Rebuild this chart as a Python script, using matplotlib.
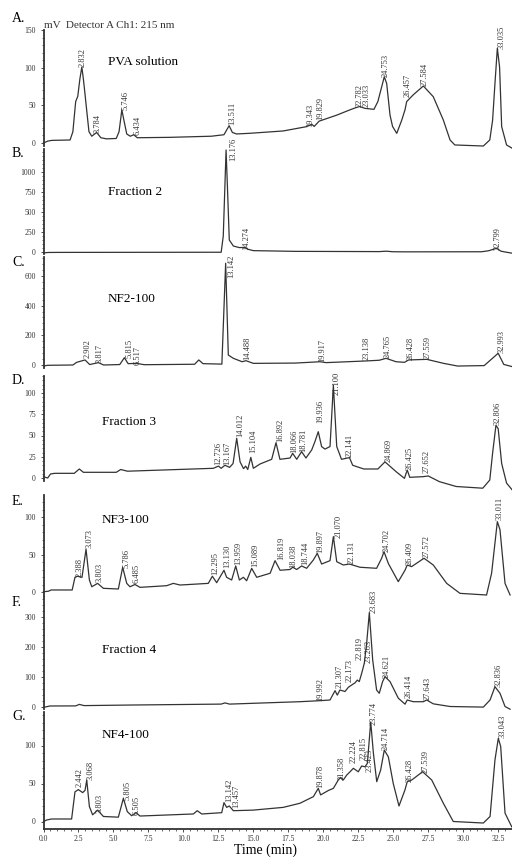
import matplotlib
matplotlib.use('Agg')
import matplotlib.pyplot as plt
from matplotlib.ticker import AutoMinorLocator, FixedLocator

plt.rcParams['font.family'] = 'serif'
plt.rcParams['font.serif'] = ['Liberation Serif', 'DejaVu Serif']

# ---- data (time in min, signal in mV) ----
# A. PVA solution
t_A = [0, 0.3, 0.6, 1.9, 2.1, 2.3, 2.45, 2.6, 2.74, 2.85, 2.95, 3.05, 3.25, 3.45, 3.8, 4.1, 4.5, 5.2, 5.4,
       5.6, 5.75, 5.95, 6.2, 6.45, 6.7, 9, 12, 12.9, 13.27, 13.5, 13.8, 14.76, 17.14, 18.8, 19.17, 19.35,
       19.7, 20.96, 21.9, 22.34, 22.6, 22.98, 23.62, 23.9, 24.36, 24.53, 24.77, 24.95, 25.25, 25.6, 25.84,
       25.96, 26.43, 27.15, 27.86, 28.58, 29.06, 29.4, 31.44, 31.9, 32.1, 32.27, 32.44, 32.6, 32.75, 33.1, 33.5]
s_A = [0, 2.5, 3.5, 4, 15, 55, 62, 85, 101, 85, 68, 50, 15, 9, 14, 7, 5.5, 6, 15,
       44, 30, 12, 9, 11, 7, 7.5, 9, 11, 23, 14, 12, 12.9, 16, 21.7, 25, 22,
       29, 37, 44, 47, 48.5, 46, 44.7, 55, 88, 79, 37, 22, 12.8, 30, 44,
       55, 64, 75.7, 61.5, 30.5, 4, -2.6, -4, 4, 30, 79, 125.8, 101, 21.7, -2.6, -7]
lab_A = ['2.832', '3.784', '5.746', '6.434', '13.511', '19.343', '19.829', '22.782', '23.033',
         '24.753', '26.457', '27.584', '33.035']
lx_A = [2.82, 3.90, 5.90, 6.75, 13.47, 19.10, 19.76, 22.62, 23.12, 24.48, 26.05, 27.27, 32.75]
ly_A = [101, 13.3, 43.8, 10.6, 23.9, 21.2, 30.5, 47.8, 47.8, 87.6, 61.1, 75.7, 124.8]

# B. Fraction 2
t_B = [0, 0.3, 1, 12.7, 12.85, 13.05, 13.15, 13.28, 13.57, 14.0, 14.4, 14.6, 15.0, 18, 24, 24.5, 25,
       26, 31.3, 31.8, 32.39, 32.7, 33.0, 33.5]
s_B = [-12, -6, -5, -3, 200, 1275, 800, 150, 75, 55, 58, 35, 17, 8, 5, 10, 3,
       2, 3, 15, 46, 10, 0, -15]
lab_B = ['13.176', '14.274', '32.799']
lx_B = [13.55, 14.52, 32.49]
ly_B = [1137, 25, 25]

# C. NF2-100
t_C = [0, 0.3, 2.1, 2.37, 2.97, 3.3, 3.92, 4.3, 5.45, 5.78, 6.05, 6.65, 7.2, 10.8, 11.1, 11.4, 12.75,
       13.02, 13.21, 13.57, 14.2, 14.47, 15.0, 18, 19.77, 20.2, 23.0, 24.0, 24.48, 25.2, 25.8, 26.1, 27.4,
       28.6, 29.6, 31.5, 32.5, 32.9, 33.5]
s_C = [-7, -2, 0, 18, 34, 3, 16, 0, 3, 49, 9, 11, 2, 5, 34, 9, 6,
       685, 67, 45, 22, 29, 11, 13, 22, 16, 27, 32, 45, 22, 18, 34, 38,
       11, -7, -4, 79, 4, -11]
lab_C = ['2.902', '3.817', '5.815', '6.517', '13.142', '14.488', '19.917', '23.138', '24.765',
         '26.428', '27.559', '32.993']
lx_C = [3.13, 4.04, 6.13, 6.70, 13.40, 14.57, 19.96, 23.10, 24.60, 26.25, 27.43, 32.75]
ly_C = [47, 13.5, 47, 0, 586, 34, 20, 34, 47, 34, 40, 81]

# D. Fraction 3
t_D = [0, 0.3, 0.5, 0.8, 2.2, 2.56, 2.85, 5.2, 5.52, 6.0, 12.14, 12.5, 12.7, 12.97, 13.3, 13.55, 13.81,
       14.05, 14.3, 14.45, 14.6, 14.82, 15.0, 15.48, 16.31, 16.62, 16.9, 17.62, 17.81, 18.1, 18.45, 18.76,
       19.17, 19.4, 19.64, 19.88, 20.12, 20.48, 20.72, 20.96, 21.3, 21.87, 22.1, 22.4, 22.9, 23.9, 24.41,
       25.2, 25.8, 26.0, 26.18, 27.15, 27.5, 28.3, 29.5, 31.4, 31.9, 32.1, 32.34, 32.5, 32.75, 33.1, 33.5]
s_D = [1.5, 0, 4.7, 5.5, 5.5, 10.6, 6.7, 6.7, 10, 8, 11.4, 14, 11.4, 15, 12.5, 17, 46.7,
       19, 11, 14, 10, 24.3, 11.4, 16.5, 22, 41.6, 22, 23.5, 29, 22, 31, 23.5,
       33, 42.7, 54.5, 36.9, 34, 37, 109, 37, 22, 24, 15, 13.3, 10.6, 10.6, 19,
       7.5, -0.4, 9.4, 0.8, 1.6, 2.4, -4.3, -10, -12, -2.4, 29, 62, 58, 17, -6, -14]
lab_D = ['12.726', '13.167', '14.012', '15.104', '16.892', '18.066', '18.781', '19.936', '21.100',
         '22.141', '24.869', '26.425', '27.652', '32.806']
lx_D = [12.49, 13.10, 14.05, 15.0, 16.90, 17.91, 18.57, 19.81, 20.96, 21.91, 24.65, 26.15, 27.39, 32.44]
ly_D = [15.3, 15.3, 48.2, 29.4, 42.4, 29.4, 30.6, 64.7, 97.6, 24.7, 18.8, 9.4, 5.9, 62.4]

# E. NF3-100
t_E = [0, 0.35, 0.55, 2.05, 2.25, 2.43, 2.75, 3.04, 3.28, 3.45, 3.87, 4.28, 5.35, 5.66, 5.95, 6.18,
       6.54, 6.9, 8.8, 9.28, 9.76, 11.78, 12.07, 12.38, 12.9, 13.09, 13.45, 13.74, 14.0, 14.29, 14.52,
       14.88, 15.24, 16.2, 16.55, 16.91, 17.62, 17.82, 18.1, 18.45, 18.81, 19.29, 19.57, 19.88, 20.48,
       20.72, 20.96, 21.43, 21.86, 22.62, 23.81, 24.17, 24.34, 24.65, 25.36, 25.84, 26.0, 26.31, 27.2,
       27.86, 28.82, 29.77, 31.67, 32.03, 32.44, 32.63, 32.99, 33.35]
s_E = [0.4, 1, 2.7, 2.7, 19.6, 21, 19.5, 57, 16, 7, 11.5, 4.9, 4, 33, 11.5, 7,
       10, 6.2, 8.4, 11.5, 9.3, 11.5, 21, 12.4, 29, 19.6, 16, 34.7, 16, 19.6, 15,
       31.5, 19.6, 25, 41.8, 29, 30, 33, 30, 34.7, 31.6, 42.7, 51.6, 37.3, 41.8,
       73.8, 40.4, 36, 37.3, 33, 31.6, 45, 53.8, 38, 13.8, 29, 36, 33.8, 45,
       36, 11.5, -1.8, -4, 25, 93.8, 83, 11.5, -4]
lab_E = ['2.388', '3.073', '3.803', '5.786', '6.485', '12.295', '13.130', '13.959', '15.089', '16.819',
         '18.038', '18.744', '19.897', '21.070', '22.131', '24.702', '26.409', '27.572', '33.011']
lx_E = [2.61, 3.27, 3.99, 5.95, 6.66, 12.26, 13.10, 13.92, 15.12, 17.03, 17.86, 18.69, 19.76, 21.07,
        22.03, 24.53, 26.15, 27.39, 32.63]
ly_E = [20, 58.7, 13.3, 32, 12, 22.7, 32, 36, 33.3, 42.7, 32, 36, 52, 72, 37.3, 53.3, 36, 45.3, 96]

# F. Fraction 4
t_F = [0, 0.46, 2.3, 2.56, 2.9, 6.42, 12.7, 12.97, 13.3, 18.33, 19.76, 20.48, 20.84, 21.0, 21.19, 21.55,
       21.79, 22.03, 22.27, 22.43, 22.57, 22.74, 22.93, 23.1, 23.29, 23.53, 23.81, 24.0, 24.24, 24.41,
       24.77, 25.36, 25.84, 26.0, 26.43, 27.15, 27.39, 27.86, 29.06, 31.44, 31.92, 32.27, 32.63, 32.99, 33.35]
s_F = [-3, 1.7, 2, 7, 3, 5, 8, 12, 8, 16, 19.4, 21.7, 52.8, 38, 55, 50,
       64, 71.7, 79, 88, 83, 110, 144, 211, 313, 155, 55, 44, 83, 99.4,
       83, 27.8, 7.8, 21.7, 16, 16, 21.7, 8.9, 0, -2, 21.7, 66, 44, 0, -9]
lab_F = ['19.992', '21.307', '22.173', '22.819', '23.263', '23.683', '24.621', '26.414', '27.643', '32.836']
lx_F = [19.76, 21.14, 21.91, 22.62, 23.22, 23.57, 24.53, 26.08, 27.46, 32.51]
ly_F = [18.3, 61.7, 81.7, 155, 145, 312, 95, 28.3, 21.7, 65]

# G. NF4-100
t_G = [0, 0.23, 0.58, 2.01, 2.25, 2.49, 2.8, 2.97, 3.09, 3.28, 3.51, 3.87, 4.28, 5.35, 5.71, 5.99, 6.3,
       6.61, 6.9, 10.71, 10.99, 11.31, 12.74, 12.9, 13.09, 13.28, 13.57, 15.0, 17.14, 18.33, 19.29, 19.64,
       19.81, 20.36, 20.72, 21.07, 21.24, 21.43, 21.67, 21.91, 22.15, 22.5, 22.74, 22.98, 23.15, 23.39,
       23.58, 23.82, 24.1, 24.36, 24.65, 25.0, 25.41, 25.84, 26.0, 26.32, 27.1, 27.75, 28.58, 29.29,
       31.44, 31.92, 32.27, 32.51, 32.68, 32.99, 33.47]
s_G = [0, 2, 3.3, 3.3, 39, 42, 38, 41, 54.6, 19.7, 8.8, 15, 6.6, 5.7, 30.5, 13, 7.6,
       11.6, 7.2, 9.9, 14.2, 9.9, 11.6, 24.8, 18.6, 20.4, 14.2, 15, 18.6, 24, 32.7, 43.6,
       35, 40.8, 43.6, 54.6, 58, 54.6, 61, 65.4, 70, 65.4, 73, 72, 76.5, 131,
       90, 52.4, 67.7, 94, 85, 50, 20.4, 41.7, 52.4, 54.6, 65.5, 54.6, 24, 0,
       -2, 6.6, 81, 109.4, 98.7, 11, -7]
lab_G = ['2.442', '3.068', '3.803', '5.805', '6.505', '13.142', '13.457', '19.878', '21.358', '22.224',
         '22.815', '23.423', '23.774', '24.714', '26.428', '27.539', '33.043']
lx_G = [2.61, 3.37, 4.04, 5.99, 6.66, 13.28, 13.76, 19.76, 21.32, 22.19, 22.86, 23.29, 23.57, 24.48,
        26.15, 27.34, 32.82]
ly_G = [45.4, 54.6, 11.2, 28.3, 8.6, 25.7, 17.8, 44.1, 54.6, 77, 80.9, 65, 127, 94, 52, 63.8, 110]

letters = ['A.', 'B.', 'C.', 'D.', 'E.', 'F.', 'G.']
names = ['PVA solution', 'Fraction 2', 'NF2-100', 'Fraction 3', 'NF3-100', 'Fraction 4', 'NF4-100']
yticks = [[0, 50, 100, 150], [0, 250, 500, 750, 1000], [0, 200, 400, 600], [0, 25, 50, 75, 100],
          [0, 50, 100], [0, 100, 200, 300], [0, 50, 100]]
xticks = [0, 2.5, 5, 7.5, 10, 12.5, 15, 17.5, 20, 22.5, 25, 27.5, 30, 32.5]

traces = [(t_A, s_A, lab_A, lx_A, ly_A), (t_B, s_B, lab_B, lx_B, ly_B), (t_C, s_C, lab_C, lx_C, ly_C),
          (t_D, s_D, lab_D, lx_D, ly_D), (t_E, s_E, lab_E, lx_E, ly_E), (t_F, s_F, lab_F, lx_F, ly_F),
          (t_G, s_G, lab_G, lx_G, ly_G)]

# ---- layout in pixels: panel top, bottom, zero line, px per mV ----
W, H = 512, 859
X0 = 43.5
panel_px = [(30, 146, 143, 0.753), (149, 254, 252, 0.08), (257, 368, 365, 0.1485), (376, 481, 478, 0.85),
            (495, 596, 592, 0.75), (597, 709, 706.5, 0.3), (712, 829, 821.5, 0.76)]
name_px = [(108, 62), (108, 192), (108, 299), (102, 422), (102, 520), (102, 650), (102, 735)]
letter_y = [19, 154, 263, 381, 501, 602, 717]

ink = '#333333'
fig = plt.figure(figsize=(W / 100, H / 100), dpi=100)

for i, (t, s, lab, lx, ly) in enumerate(traces):
    top, bot, zero, k = panel_px[i]
    ax = fig.add_axes([X0 / W, 1 - bot / H, (W - X0) / W, (bot - top) / H])
    ax.patch.set_alpha(0)
    ax.set_xlim(0, (W - X0) / 13.99)
    ax.set_ylim((zero - bot) / k, (zero - top) / k)
    ax.plot(t, s, color=ink, lw=0.9, clip_on=False)
    for txt, x, y in zip(lab, lx, ly):
        ax.text(x, y, txt, rotation=90, ha='center', va='bottom', fontsize=6, color=ink, clip_on=False)
    for side in ['top', 'right', 'bottom']:
        ax.spines[side].set_visible(False)
    ax.spines['left'].set_color(ink)
    ax.spines['left'].set_linewidth(1.3)
    ax.yaxis.set_major_locator(FixedLocator(yticks[i]))
    ax.yaxis.set_minor_locator(AutoMinorLocator(5))
    ax.tick_params(axis='y', which='major', length=2.5, width=0.6, labelsize=5.5, pad=3, colors=ink)
    ax.tick_params(axis='y', which='minor', length=1.3, width=0.5, colors=ink)
    if i == 6:
        ax.spines['bottom'].set_visible(True)
        ax.spines['bottom'].set_color(ink)
        ax.spines['bottom'].set_linewidth(1.3)
        ax.set_xticks(xticks)
        ax.set_xticklabels([f'{v:.1f}' for v in xticks])
        ax.xaxis.set_minor_locator(AutoMinorLocator(5))
        ax.tick_params(axis='x', which='major', length=2.5, width=0.6, labelsize=5.5, pad=2, colors=ink)
        ax.tick_params(axis='x', which='minor', length=1.3, width=0.5, colors=ink)
    else:
        ax.set_xticks([])
    nx, ny = name_px[i]
    fig.text(nx / W, 1 - ny / H, names[i], fontsize=9.5, ha='left', va='center', color='black',
             bbox=dict(facecolor='white', edgecolor='none', pad=4))
    fig.text(12 / W, 1 - letter_y[i] / H, letters[i], fontsize=10, ha='left', va='center', color='black')

fig.text(44 / W, 1 - 26 / H, 'mV  Detector A Ch1: 215 nm', fontsize=8, ha='left', va='center', color=ink)
fig.text(265 / W, 1 - 850 / H, 'Time (min)', fontsize=10, ha='center', va='center', color='black')

fig.savefig('out.png', dpi=100)
